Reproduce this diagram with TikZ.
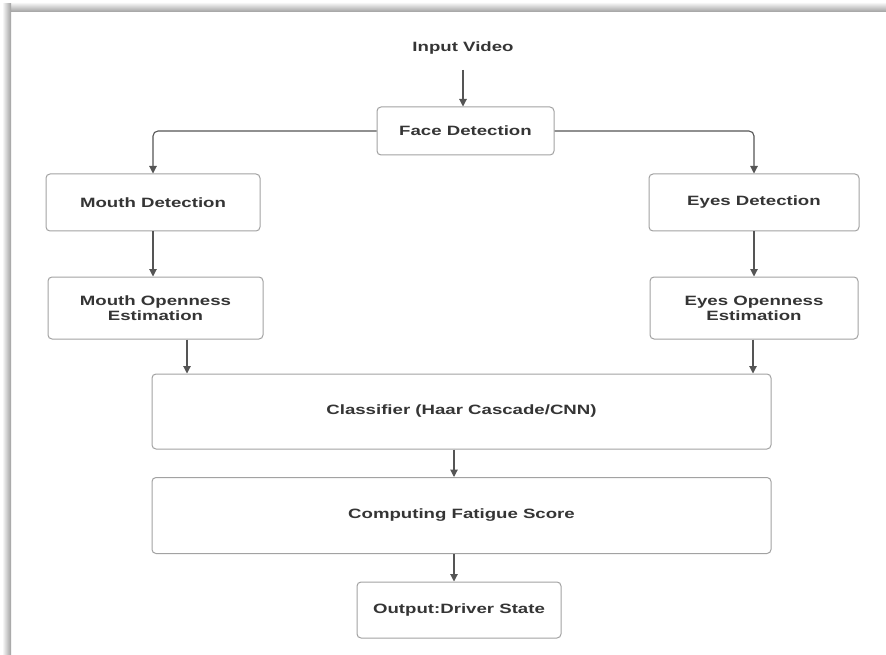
\documentclass[tikz,border=0pt]{standalone}
\usepackage{fontspec}
\setmainfont{Liberation Sans}[FakeStretch=1.38]
\usetikzlibrary{calc,arrows.meta,positioning}
\definecolor{txtgray}{HTML}{353535}
\definecolor{boxgray}{HTML}{A2A2A2}
\definecolor{arrgray}{HTML}{555555}
\tikzset{
  blk/.style={draw=boxgray, line width=1pt, rounded corners=4pt, fill=white,
    text=txtgray, font=\bfseries\fontsize{13.5}{15}\selectfont, align=center,
    inner sep=0pt},
  arr/.style={draw=arrgray, line width=1.1pt,
    -{Triangle[width=7.5pt,length=7.5pt]}},
}

\begin{document}
\begin{tikzpicture}[x=1pt,y=-1pt]
\useasboundingbox (0,0) rectangle (886,655);
% frame with shadow
\shade[top color=gray!8, bottom color=gray!75] (4,3) rectangle (886,12);
\shade[left color=gray!8, right color=gray!75] (3,4) rectangle (11,655);
% blocks
\node[text=txtgray, font=\bfseries\fontsize{13.5}{15}\selectfont] (input) at (463,48) {Input Video};
\node[blk, minimum width=177, minimum height=48] (face) at (465.5,131) {Face Detection};
\node[blk, minimum width=214, minimum height=57] (mouth) at (153,202.5) {Mouth Detection};
\node[blk, minimum width=215, minimum height=62] (mopen) at (155.5,308) {Mouth Openness\\Estimation};
\node[blk, minimum width=210, minimum height=57] (eyes) at (754,202.5) {Eyes Detection};
\node[blk, minimum width=208, minimum height=62] (eopen) at (754,308) {Eyes Openness\\Estimation};
\node[blk, minimum width=619, minimum height=75] (classif) at (461.5,411.5) {Classifier (Haar Cascade/CNN)};
\node[blk, minimum width=619, minimum height=76] (fatigue) at (461.5,515.5) {Computing Fatigue Score};
\node[blk, minimum width=204, minimum height=56] (output) at (459,610) {Output:Driver State};
% helper columns
\coordinate (cl) at (187,0);
\coordinate (cr) at (753,0);
\coordinate (cm) at (454,0);
% connectors
\draw[arr] (input.south |- 0,70) -- (face.north -| input.south);
\draw[arr, rounded corners=5pt] (face.west) -| (mouth.north);
\draw[arr, rounded corners=5pt] (face.east) -| (eyes.north);
\draw[arr] (mouth.south) -- (mopen.north -| mouth.south);
\draw[arr] (eyes.south) -- (eopen.north -| eyes.south);
\draw[arr] (mopen.south -| cl) -- (classif.north -| cl);
\draw[arr] (eopen.south -| cr) -- (classif.north -| cr);
\draw[arr] (classif.south -| cm) -- (fatigue.north -| cm);
\draw[arr] (fatigue.south -| cm) -- (output.north -| cm);
\end{tikzpicture}
\end{document}
